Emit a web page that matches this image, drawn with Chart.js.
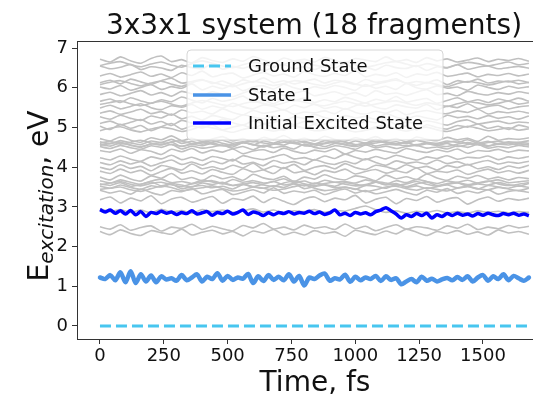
<!DOCTYPE html>
<html><head><meta charset="utf-8">
<script src="https://cdn.jsdelivr.net/npm/chart.js@4/dist/chart.umd.min.js"></script>
<style>html,body{margin:0;padding:0;background:#fff;}#wrap{width:533px;height:396px;position:relative;}</style>
</head><body><div id="wrap"><canvas id="c" width="533" height="396"></canvas></div>
<script>
const titleText = "3x3x1 system (18 fragments)";
const xTitle = "Time, fs";
const yTitleMain = "E", yTitleSub = "excitation", yTitleTail = ", eV";
const xTicks = [0, 250, 500, 750, 1000, 1250, 1500];
const yTicks = [0, 1, 2, 3, 4, 5, 6, 7];
const seriesLabels = ["Ground State", "State 1", "Initial Excited State"];

const timesFine = [0,20,40,60,80,100,120,140,160,180,200,220,240,260,280,300,320,340,360,380,400,420,440,460,480,500,520,540,560,580,600,620,640,660,680,700,720,740,760,780,800,820,840,860,880,900,920,940,960,980,1000,1020,1040,1060,1080,1100,1120,1140,1160,1180,1200,1220,1240,1260,1280,1300,1320,1340,1360,1380,1400,1420,1440,1460,1480,1500,1520,1540,1560,1580,1600,1620,1640,1660,1680];
const timesCoarse = [0,40,80,120,160,200,240,280,320,360,400,440,480,520,560,600,640,680,720,760,800,840,880,920,960,1000,1040,1080,1120,1160,1200,1240,1280,1320,1360,1400,1440,1480,1520,1560,1600,1640,1680];

const groundState = [0,0,0,0,0,0,0,0,0,0,0,0,0,0,0,0,0,0,0,0,0,0,0,0,0,0,0,0,0,0,0,0,0,0,0,0,0,0,0,0,0,0,0];
const state1 = [1.22,1.18,1.28,1.15,1.35,1.10,1.38,1.08,1.30,1.12,1.27,1.10,1.25,1.17,1.20,1.14,1.28,1.15,1.22,1.30,1.12,1.24,1.18,1.33,1.14,1.26,1.16,1.22,1.19,1.31,1.08,1.25,1.13,1.28,1.16,1.24,1.15,1.30,1.12,1.26,1.02,1.22,1.18,1.27,1.32,1.14,1.20,1.17,1.29,1.11,1.24,1.15,1.22,1.18,1.26,1.13,1.25,1.16,1.20,1.05,1.12,1.18,1.10,1.24,1.14,1.19,1.12,1.17,1.21,1.15,1.23,1.16,1.25,1.12,1.22,1.28,1.14,1.25,1.18,1.30,1.15,1.26,1.20,1.14,1.22];
const initialExcited = [2.93,2.87,2.92,2.84,2.90,2.82,2.91,2.80,2.88,2.76,2.86,2.83,2.89,2.84,2.87,2.81,2.86,2.83,2.90,2.82,2.85,2.88,2.79,2.86,2.83,2.89,2.82,2.86,2.92,2.81,2.87,2.84,2.78,2.85,2.80,2.86,2.83,2.88,2.82,2.86,2.84,2.89,2.83,2.87,2.81,2.85,2.92,2.80,2.84,2.78,2.86,2.82,2.85,2.80,2.88,2.92,2.98,2.90,2.82,2.72,2.80,2.76,2.83,2.78,2.84,2.72,2.80,2.76,2.83,2.78,2.84,2.79,2.82,2.77,2.83,2.79,2.84,2.80,2.78,2.83,2.80,2.84,2.79,2.82,2.78];

const gray01 = [2.38,2.30,2.42,2.33,2.28,2.40,2.35,2.31,2.44,2.29,2.36,2.41,2.32,2.38,2.27,2.39,2.34,2.43,2.30,2.36,2.29,2.40,2.33,2.37,2.26,2.41,2.35,2.30,2.39,2.32,2.44,2.36,2.28,2.38,2.33,2.40,2.31,2.37,2.29,2.42,2.34,2.38,2.31];
const gray02 = [2.50,2.44,2.55,2.41,2.48,2.52,2.39,2.49,2.46,2.56,2.43,2.51,2.45,2.40,2.53,2.47,2.58,2.44,2.49,2.42,2.54,2.46,2.50,2.43,2.57,2.45,2.51,2.40,2.48,2.55,2.44,2.50,2.47,2.41,2.52,2.46,2.56,2.43,2.49,2.45,2.53,2.47,2.51];
const gray03 = [2.95,2.88,2.93,2.86,2.92,2.85,2.94,2.87,2.91,2.84,2.93,2.88,2.92,2.86,2.90,2.95,2.87,2.92,2.85,2.90,2.88,2.93,2.86,2.91,2.89,2.96,3.02,2.93,2.86,2.90,2.84,2.89,2.86,2.91,2.85,2.88,2.84,2.90,2.86,2.89,2.85,2.88,2.86];
const gray04 = [3.18,3.25,3.10,3.22,3.15,3.28,3.08,3.20,3.24,3.12,3.19,3.26,3.09,3.21,3.17,3.27,3.11,3.23,3.14,3.06,3.20,3.25,3.13,3.22,3.18,3.29,3.10,3.19,3.24,3.08,3.21,3.16,3.26,3.12,3.20,3.23,3.07,3.18,3.25,3.14,3.21,3.17,3.22];
const gray05 = [3.42,3.35,3.40,3.32,3.45,3.36,3.30,3.41,3.38,3.46,3.33,3.39,3.44,3.31,3.37,3.43,3.35,3.48,3.34,3.40,3.36,3.42,3.31,3.39,3.45,3.35,3.41,3.33,3.38,3.44,3.36,3.30,3.42,3.37,3.46,3.34,3.40,3.35,3.43,3.32,3.39,3.41,3.36];
const gray06 = [3.52,3.47,3.55,3.49,3.44,3.53,3.50,3.57,3.46,3.51,3.54,3.48,3.52,3.45,3.56,3.50,3.47,3.53,3.49,3.58,3.46,3.51,3.55,3.48,3.50,3.44,3.54,3.52,3.47,3.56,3.49,3.53,3.46,3.51,3.55,3.48,3.52,3.45,3.54,3.50,3.47,3.53,3.49];
const gray07 = [3.58,3.54,3.61,3.52,3.57,3.63,3.53,3.59,3.55,3.50,3.60,3.56,3.62,3.54,3.58,3.51,3.57,3.64,3.55,3.59,3.53,3.60,3.56,3.52,3.61,3.57,3.54,3.62,3.55,3.59,3.51,3.58,3.63,3.54,3.57,3.60,3.53,3.58,3.55,3.61,3.56,3.52,3.59];
const gray08 = [3.66,3.60,3.68,3.62,3.57,3.65,3.70,3.61,3.64,3.59,3.67,3.63,3.58,3.69,3.62,3.66,3.60,3.64,3.71,3.61,3.65,3.58,3.67,3.62,3.64,3.60,3.68,3.63,3.57,3.66,3.61,3.69,3.64,3.59,3.65,3.62,3.67,3.60,3.64,3.68,3.61,3.63,3.66];
const gray09 = [3.75,3.68,3.80,3.70,3.65,3.78,3.72,3.84,3.69,3.74,3.66,3.79,3.71,3.76,3.67,3.82,3.73,3.69,3.77,3.64,3.75,3.70,3.81,3.72,3.68,3.78,3.74,3.66,3.80,3.71,3.76,3.69,3.83,3.73,3.67,3.77,3.72,3.79,3.70,3.75,3.68,3.74,3.71];
const gray10 = [3.90,3.84,3.95,3.86,3.92,3.80,3.89,3.97,3.85,3.91,3.83,3.94,3.87,3.82,3.96,3.88,3.93,3.84,3.99,3.86,3.90,3.81,3.92,3.87,3.95,3.83,3.89,3.94,3.85,3.91,3.86,3.98,3.84,3.90,3.87,3.93,3.82,3.89,3.95,3.86,3.91,3.85,3.92];
const gray11 = [4.00,3.94,4.06,3.97,4.02,3.91,4.04,3.99,3.93,4.08,3.96,4.01,3.95,4.05,3.98,4.10,3.94,4.03,3.97,4.07,3.92,4.00,4.04,3.96,4.09,3.99,3.94,4.05,4.01,3.95,4.06,3.98,4.02,3.93,4.04,3.99,4.07,3.96,4.01,3.94,4.03,3.98,4.05];
const gray12 = [4.12,4.06,4.16,4.08,4.14,4.03,4.11,4.18,4.07,4.13,4.05,4.15,4.09,4.20,4.08,4.12,4.04,4.17,4.10,4.14,4.06,4.19,4.11,4.07,4.15,4.09,4.21,4.12,4.05,4.16,4.10,4.13,4.08,4.18,4.09,4.14,4.06,4.12,4.17,4.08,4.13,4.10,4.15];
const gray13 = [4.24,4.18,4.28,4.20,4.15,4.26,4.21,4.30,4.19,4.25,4.17,4.27,4.22,4.16,4.29,4.23,4.19,4.26,4.32,4.21,4.24,4.18,4.28,4.22,4.33,4.25,4.19,4.27,4.21,4.30,4.24,4.18,4.26,4.22,4.29,4.20,4.25,4.23,4.28,4.19,4.26,4.22,4.27];
const gray14 = [4.52,4.47,4.55,4.49,4.45,4.54,4.50,4.57,4.46,4.53,4.48,4.51,4.56,4.47,4.52,4.44,4.55,4.49,4.53,4.46,4.58,4.50,4.47,4.54,4.51,4.45,4.56,4.49,4.53,4.47,4.52,4.55,4.48,4.51,4.46,4.54,4.50,4.57,4.48,4.52,4.49,4.55,4.51];
const gray15 = [4.58,4.53,4.61,4.55,4.50,4.59,4.56,4.63,4.52,4.58,4.54,4.60,4.55,4.51,4.62,4.57,4.53,4.59,4.56,4.64,4.54,4.58,4.52,4.60,4.57,4.55,4.61,4.53,4.58,4.56,4.63,4.54,4.59,4.55,4.60,4.52,4.57,4.61,4.54,4.58,4.56,4.60,4.55];
const gray16 = [4.64,4.59,4.67,4.61,4.57,4.66,4.62,4.70,4.60,4.65,4.58,4.63,4.68,4.60,4.64,4.56,4.66,4.61,4.69,4.62,4.65,4.59,4.67,4.63,4.58,4.66,4.61,4.70,4.62,4.64,4.59,4.68,4.63,4.60,4.66,4.62,4.69,4.61,4.65,4.58,4.64,4.62,4.67];
const gray17 = [4.72,4.66,4.76,4.68,4.63,4.74,4.69,4.79,4.67,4.73,4.65,4.71,4.77,4.66,4.72,4.64,4.75,4.70,4.80,4.68,4.73,4.66,4.78,4.70,4.65,4.74,4.69,4.77,4.67,4.72,4.64,4.76,4.70,4.67,4.75,4.69,4.73,4.65,4.78,4.68,4.72,4.70,4.74];
const gray18 = [4.42,4.38,4.46,4.35,4.44,4.40,4.32,4.45,4.39,4.47,4.36,4.43,4.38,4.46,4.34,4.41,4.44,4.37,4.48,4.40,4.35,4.43,4.39,4.46,4.33,4.42,4.38,4.45,4.40,4.36,4.47,4.41,4.37,4.44,4.39,4.46,4.35,4.42,4.40,4.45,4.38,4.43,4.41];
const gray19 = [5.03,4.95,5.08,4.98,5.05,4.92,5.02,5.10,4.96,5.04,4.99,5.07,4.94,5.01,5.06,4.97,5.09,5.00,4.93,5.05,4.98,5.08,4.96,5.03,4.99,5.11,4.95,5.02,5.06,4.97,5.04,4.94,5.07,5.00,4.96,5.05,5.01,5.09,4.98,5.03,4.95,5.06,5.00];
const gray20 = [5.10,5.16,5.07,5.13,5.20,5.09,5.15,5.05,5.18,5.11,5.14,5.08,5.21,5.12,5.06,5.17,5.10,5.13,5.19,5.07,5.15,5.11,5.09,5.18,5.13,5.05,5.16,5.12,5.20,5.08,5.14,5.10,5.17,5.12,5.06,5.15,5.19,5.09,5.13,5.16,5.10,5.14,5.12];
const gray21 = [5.27,5.21,5.31,5.23,5.18,5.29,5.24,5.34,5.22,5.28,5.19,5.30,5.25,5.20,5.32,5.26,5.22,5.29,5.17,5.27,5.23,5.33,5.25,5.20,5.30,5.24,5.28,5.21,5.35,5.26,5.22,5.29,5.24,5.19,5.31,5.25,5.28,5.22,5.30,5.23,5.27,5.21,5.29];
const gray22 = [5.36,5.42,5.33,5.39,5.46,5.35,5.40,5.31,5.44,5.37,5.41,5.34,5.47,5.38,5.32,5.43,5.36,5.40,5.45,5.33,5.39,5.37,5.42,5.35,5.48,5.38,5.34,5.41,5.36,5.44,5.32,5.39,5.43,5.37,5.35,5.42,5.38,5.46,5.34,5.40,5.37,5.41,5.36];
const gray23 = [5.49,5.56,5.47,5.53,5.60,5.50,5.45,5.55,5.51,5.58,5.46,5.54,5.49,5.61,5.52,5.47,5.57,5.53,5.44,5.56,5.50,5.59,5.48,5.53,5.46,5.55,5.62,5.51,5.47,5.57,5.52,5.49,5.58,5.45,5.54,5.50,5.60,5.48,5.53,5.56,5.47,5.52,5.55];
const gray24 = [5.66,5.72,5.63,5.75,5.67,5.61,5.70,5.65,5.77,5.69,5.62,5.73,5.66,5.71,5.79,5.64,5.68,5.60,5.72,5.67,5.74,5.63,5.70,5.65,5.76,5.69,5.62,5.71,5.66,5.78,5.64,5.69,5.73,5.61,5.68,5.75,5.65,5.70,5.63,5.72,5.67,5.74,5.66];
const gray25 = [5.83,5.89,5.80,5.86,5.93,5.82,5.88,5.79,5.91,5.85,5.81,5.90,5.84,5.78,5.87,5.94,5.83,5.89,5.81,5.86,5.92,5.80,5.85,5.90,5.82,5.88,5.79,5.93,5.84,5.87,5.81,5.89,5.95,5.83,5.86,5.80,5.91,5.85,5.82,5.88,5.84,5.90,5.86];
const gray26 = [6.02,5.97,6.06,5.94,6.01,6.08,5.96,6.03,5.99,6.10,5.95,6.04,5.98,6.07,5.93,6.02,6.05,5.97,6.09,6.00,5.95,6.03,5.98,6.06,6.01,5.94,6.08,5.99,6.04,5.96,6.11,6.00,5.97,6.05,5.99,6.02,5.94,6.07,6.01,5.96,6.04,5.99,6.03];
const gray27 = [6.13,6.19,6.10,6.22,6.15,6.09,6.18,6.24,6.12,6.16,6.21,6.11,6.17,6.08,6.20,6.14,6.25,6.13,6.18,6.10,6.16,6.22,6.12,6.19,6.15,6.09,6.21,6.14,6.17,6.23,6.11,6.16,6.13,6.20,6.08,6.18,6.14,6.22,6.12,6.17,6.15,6.19,6.13];
const gray28 = [6.30,6.36,6.27,6.33,6.40,6.29,6.35,6.26,6.38,6.31,6.42,6.28,6.34,6.37,6.25,6.32,6.39,6.30,6.35,6.27,6.41,6.33,6.29,6.36,6.31,6.43,6.28,6.34,6.30,6.38,6.26,6.35,6.32,6.39,6.29,6.33,6.37,6.28,6.34,6.31,6.36,6.30,6.35];
const gray29 = [6.55,6.48,6.52,6.59,6.46,6.53,6.50,6.44,6.57,6.51,6.48,6.60,6.47,6.54,6.49,6.56,6.43,6.52,6.58,6.48,6.53,6.46,6.55,6.50,6.61,6.47,6.52,6.45,6.57,6.51,6.49,6.56,6.44,6.53,6.50,6.58,6.47,6.52,6.55,6.48,6.51,6.54,6.49];
const gray30 = [6.72,6.65,6.78,6.68,6.62,6.74,6.80,6.66,6.71,6.63,6.76,6.69,6.64,6.73,6.67,6.79,6.70,6.62,6.75,6.68,6.72,6.65,6.77,6.69,6.63,6.74,6.70,6.66,6.78,6.67,6.71,6.64,6.76,6.68,6.73,6.65,6.70,6.75,6.66,6.72,6.69,6.74,6.67];
const gray31 = [3.44,3.47,3.50,3.43,3.39,3.46,3.52,3.49,3.41,3.44,3.48,3.53,3.46,3.40,3.43,3.50,3.47,3.42,3.45,3.51,3.55,3.47,3.41,3.44,3.49,3.45,3.38,3.43,3.50,3.52,3.46,3.42,3.48,3.44,3.40,3.47,3.51,3.46,3.43,3.49,3.45,3.41,3.47];
const gray32 = [3.55,3.60,3.64,3.57,3.53,3.59,3.62,3.56,3.51,3.58,3.63,3.66,3.59,3.54,3.57,3.61,3.55,3.52,3.60,3.65,3.58,3.54,3.59,3.62,3.57,3.53,3.56,3.63,3.60,3.55,3.58,3.64,3.57,3.52,3.59,3.61,3.56,3.60,3.65,3.58,3.54,3.57,3.61];
const gray33 = [4.55,4.60,4.63,4.56,4.52,4.58,4.62,4.57,4.53,4.59,4.64,4.58,4.54,4.56,4.61,4.57,4.51,4.58,4.63,4.60,4.55,4.53,4.59,4.62,4.56,4.52,4.57,4.61,4.64,4.58,4.54,4.57,4.60,4.55,4.52,4.58,4.62,4.57,4.53,4.59,4.61,4.56,4.58];
const gray34 = [4.60,4.65,4.58,4.63,4.68,4.61,4.57,4.64,4.66,4.59,4.62,4.67,4.60,4.56,4.63,4.65,4.61,4.58,4.64,4.69,4.62,4.59,4.61,4.66,4.63,4.57,4.60,4.65,4.62,4.59,4.64,4.68,4.61,4.58,4.63,4.66,4.60,4.57,4.62,4.65,4.61,4.63,4.60];
const gray35 = [4.92,4.98,5.02,4.94,4.89,4.96,5.01,4.97,4.90,4.95,5.03,4.99,4.93,4.88,4.95,5.00,4.96,4.91,4.97,5.04,4.98,4.92,4.94,5.00,4.95,4.89,4.93,4.99,5.02,4.96,4.91,4.97,5.01,4.94,4.90,4.96,5.03,4.98,4.92,4.95,4.99,4.93,4.97];
const gray36 = [5.58,5.63,5.67,5.60,5.55,5.61,5.66,5.59,5.54,5.62,5.68,5.63,5.57,5.53,5.60,5.65,5.61,5.56,5.62,5.69,5.64,5.58,5.55,5.61,5.66,5.60,5.54,5.59,5.64,5.67,5.61,5.56,5.62,5.58,5.53,5.60,5.65,5.62,5.57,5.61,5.66,5.59,5.63];
const gray37 = [6.08,6.14,6.18,6.11,6.05,6.12,6.17,6.09,6.04,6.13,6.19,6.14,6.07,6.03,6.10,6.16,6.12,6.06,6.11,6.18,6.15,6.09,6.05,6.12,6.17,6.10,6.04,6.09,6.15,6.19,6.12,6.06,6.13,6.08,6.03,6.11,6.16,6.13,6.07,6.12,6.17,6.10,6.14];
const gray38 = [6.56,6.62,6.66,6.58,6.53,6.60,6.65,6.57,6.52,6.61,6.68,6.62,6.55,6.51,6.58,6.64,6.60,6.54,6.59,6.67,6.63,6.57,6.53,6.60,6.65,6.58,6.52,6.57,6.63,6.66,6.60,6.54,6.61,6.56,6.51,6.59,6.64,6.61,6.55,6.60,6.65,6.58,6.62];
const grayLines = [gray01,gray02,gray03,gray04,gray05,gray06,gray07,gray08,gray09,gray10,gray11,gray12,gray13,gray14,gray15,gray16,gray17,gray18,gray19,gray20,gray21,gray22,gray23,gray24,gray25,gray26,gray27,gray28,gray29,gray30,gray31,gray32,gray33,gray34,gray35,gray36,gray37,gray38];

const pairs = (ts, vs) => vs.map((v, i) => ({x: ts[i], y: v}));
const FONT = "'DejaVu Sans', sans-serif";
const COL_GROUND = '#48c6ef', COL_S1 = '#4a93e6', COL_EX = '#0000ff', COL_GRAY = '#c0c0c0';

const datasets = [
  {label: seriesLabels[0], data: pairs(timesCoarse, groundState), borderColor: COL_GROUND, borderWidth: 3, borderDash: [11, 5], pointRadius: 0, fill: false},
  {label: seriesLabels[1], data: pairs(timesFine, state1), borderColor: COL_S1, borderWidth: 4.5, pointRadius: 0, fill: false, tension: 0.3, borderJoinStyle: 'round', borderCapStyle: 'round'},
  {label: seriesLabels[2], data: pairs(timesFine, initialExcited), borderColor: COL_EX, borderWidth: 3.5, pointRadius: 0, fill: false, tension: 0.3, borderJoinStyle: 'round'},
];
grayLines.forEach((g, i) => datasets.push({label: 'gray' + i, data: pairs(timesCoarse, g), borderColor: COL_GRAY, borderWidth: 1.6, pointRadius: 0, fill: false, tension: 0.2}));

const deco = {
  id: 'deco',
  beforeDraw(chart) {
    const c = chart.ctx; c.save(); c.fillStyle = '#fff'; c.fillRect(0, 0, chart.width, chart.height); c.restore();
  },
  afterDatasetsDraw(chart) {
    const c = chart.ctx, a = chart.chartArea;
    c.save();
    c.strokeStyle = '#333'; c.lineWidth = 1;
    c.beginPath(); c.moveTo(a.left, a.top + 0.5); c.lineTo(a.right, a.top + 0.5); c.stroke();
    const lx = 187, ly = 50, lw = 256, lh = 90, r = 4;
    c.beginPath();
    c.moveTo(lx + r, ly); c.lineTo(lx + lw - r, ly); c.quadraticCurveTo(lx + lw, ly, lx + lw, ly + r);
    c.lineTo(lx + lw, ly + lh - r); c.quadraticCurveTo(lx + lw, ly + lh, lx + lw - r, ly + lh);
    c.lineTo(lx + r, ly + lh); c.quadraticCurveTo(lx, ly + lh, lx, ly + lh - r);
    c.lineTo(lx, ly + r); c.quadraticCurveTo(lx, ly, lx + r, ly); c.closePath();
    c.fillStyle = 'rgba(255,255,255,0.8)'; c.fill();
    c.strokeStyle = '#d6d6d6'; c.lineWidth = 1; c.stroke();
    const rows = [66, 95, 123];
    for (let i = 0; i < 3; i++) {
      const ds = chart.data.datasets[i];
      c.strokeStyle = ds.borderColor; c.lineWidth = Math.min(ds.borderWidth, 3.5);
      c.setLineDash(ds.borderDash || []);
      c.beginPath(); c.moveTo(193, rows[i]); c.lineTo(231, rows[i]); c.stroke();
      c.setLineDash([]);
      c.fillStyle = '#111'; c.font = '18px ' + FONT; c.textBaseline = 'middle'; c.textAlign = 'left';
      c.fillText(ds.label, 248, rows[i] + 1);
    }
    c.restore();
  },
  afterDraw(chart) {
    const c = chart.ctx;
    c.save();
    c.fillStyle = '#111';
    c.font = '28px ' + FONT; c.textBaseline = 'alphabetic'; c.textAlign = 'center';
    c.fillText(titleText, 314, 34);
    c.fillText(xTitle, 315, 391);
    const big = '28px ' + FONT, small = 'italic 20px ' + FONT;
    c.font = big; const w1 = c.measureText(yTitleMain).width, w3 = c.measureText(yTitleTail).width;
    c.font = small; const w2 = c.measureText(yTitleSub).width;
    const total = w1 + w2 + w3;
    c.translate(48, 196); c.rotate(-Math.PI / 2);
    c.textAlign = 'left';
    let x = -total / 2;
    c.font = big; c.fillText(yTitleMain, x, 0); x += w1;
    c.font = small; c.fillText(yTitleSub, x, 5); x += w2;
    c.font = big; c.fillText(yTitleTail, x, 0);
    c.restore();
  }
};

new Chart(document.getElementById('c'), {
  type: 'line',
  data: {datasets},
  options: {
    responsive: false, animation: false, devicePixelRatio: 1,
    layout: {padding: {top: 41, right: 0, left: 0, bottom: 0}},
    plugins: {legend: {display: false}, tooltip: {enabled: false}, title: {display: false}},
    scales: {
      x: {
        type: 'linear', min: -90, max: 1696,
        afterBuildTicks: ax => { ax.ticks = xTicks.map(v => ({value: v})); },
        afterFit: ax => { ax.height = 57; },
        grid: {display: true, drawOnChartArea: false, drawTicks: true, tickLength: 5, color: '#333', tickWidth: 1},
        border: {display: true, color: '#333', width: 1},
        ticks: {font: {family: FONT, size: 18}, color: '#111', padding: 2, maxRotation: 0, autoSkip: false, callback: v => String(v)}
      },
      y: {
        type: 'linear', min: -0.33, max: 7.18,
        afterBuildTicks: ax => { ax.ticks = yTicks.map(v => ({value: v})); },
        afterFit: ax => { ax.width = 77; },
        grid: {display: true, drawOnChartArea: false, drawTicks: true, tickLength: 5, color: '#333', tickWidth: 1},
        border: {display: true, color: '#333', width: 1},
        ticks: {font: {family: FONT, size: 18}, color: '#111', padding: 4, callback: v => String(v)}
      }
    }
  },
  plugins: [deco]
});
</script>
</body></html>
